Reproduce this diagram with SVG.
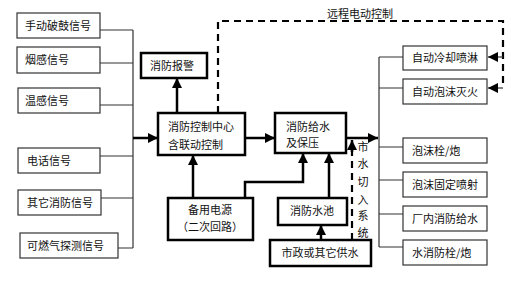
<svg xmlns="http://www.w3.org/2000/svg" width="511" height="281" viewBox="0 0 511 281">
<defs>
<marker id="ah" markerUnits="userSpaceOnUse" markerWidth="10" markerHeight="10" viewBox="0 0 10 10" refX="10" refY="5" orient="auto">
<path d="M0,0 L10,5 L0,10 Z" fill="#000"/>
</marker>
</defs>
<style>
text{font-family:"Noto Sans CJK SC","Noto Sans",sans-serif;font-size:11px;fill:#111}
.thin{fill:#fff;stroke:#333;stroke-width:1.2}
.thick{fill:#fff;stroke:#000;stroke-width:2.5}
.ln{fill:none;stroke:#333;stroke-width:1.2}
.tk{fill:none;stroke:#000;stroke-width:2.5}
.ds{fill:none;stroke:#000;stroke-width:2.2;stroke-dasharray:7,5}
.c{text-anchor:middle}
</style>
<rect width="511" height="281" fill="#fff"/>
<g id="connectors">
<path class="ln" d="M100,30 H133 M100,63 H133 M100,105 H133 M100,156 H133 M100,198 H133 M118,248 H133 M133,30 V248"/>
<path class="tk" d="M133,138 H158" marker-end="url(#ah)"/>
<path class="tk" d="M177,113 V78" marker-end="url(#ah)"/>
<path class="tk" d="M245,138 H275" marker-end="url(#ah)"/>
<path class="tk" d="M346,138 H378" marker-end="url(#ah)"/>
<path class="tk" d="M193,198 V155" marker-end="url(#ah)"/>
<path class="tk" d="M245,198 V182 H303 V153" marker-end="url(#ah)"/>
<path class="tk" d="M329,198 V153" marker-end="url(#ah)"/>
<path class="tk" d="M321,240 V225" marker-end="url(#ah)"/>
<path class="ds" d="M352,240 V150"/>
<path class="tk" d="M352,152 V140" marker-end="url(#ah)"/>
<path class="ds" d="M218,113 V21 H503 V86"/>
<path class="ln" d="M503,57 H488" marker-end="url(#ah)"/>
<path class="ln" d="M503,88 H488" marker-end="url(#ah)"/>
<path class="ln" d="M379,57 V247 M379,57 H403 M379,88 H403 M379,147 H403 M379,180 H403 M379,214 H403 M379,247 H403"/>
</g>
<g id="n1"><rect class="thin" x="17" y="13" width="83" height="25"/><text x="25" y="29.5">手动破鼓信号</text></g>
<g id="n2"><rect class="thin" x="17" y="47" width="83" height="26"/><text x="25" y="64">烟感信号</text></g>
<g id="n3"><rect class="thin" x="18" y="88" width="82" height="25"/><text x="25" y="104.5">温感信号</text></g>
<g id="n4"><rect class="thin" x="18" y="148" width="82" height="25"/><text x="27" y="164.5">电话信号</text></g>
<g id="n5"><rect class="thin" x="18" y="190" width="83" height="25"/><text x="27" y="206.5">其它消防信号</text></g>
<g id="n6"><rect class="thin" x="20" y="233" width="98" height="25"/><text x="27" y="249.5">可燃气探测信号</text></g>
<g id="alarm"><rect class="thick" x="141" y="53" width="66" height="25"/><text x="150" y="70">消防报警</text></g>
<g id="center"><rect class="thick" x="158" y="113" width="87" height="42"/><text x="168" y="131">消防控制中心</text><text x="168" y="149">含联动控制</text></g>
<g id="water"><rect class="thick" x="275" y="113" width="71" height="40"/><text x="286" y="131">消防给水</text><text x="286" y="147">及保压</text></g>
<g id="power"><rect class="thick" x="168" y="198" width="85" height="42"/><text class="c" x="210" y="214">备用电源</text><text class="c" x="210" y="231">（二次回路）</text></g>
<g id="pool"><rect class="thick" x="278" y="198" width="69" height="27"/><text class="c" x="312" y="215">消防水池</text></g>
<g id="city"><rect class="thick" x="270" y="240" width="101" height="26"/><text class="c" x="320" y="257">市政或其它供水</text></g>
<g id="r1"><rect class="thin" x="403" y="46" width="84" height="24"/><text x="412" y="62">自动冷却喷淋</text></g>
<g id="r2"><rect class="thin" x="403" y="79" width="84" height="25"/><text x="412" y="95.5">自动泡沫灭火</text></g>
<g id="r3"><rect class="thin" x="403" y="138" width="84" height="25"/><text x="412" y="154.5">泡沫栓/炮</text></g>
<g id="r4"><rect class="thin" x="403" y="172" width="84" height="25"/><text x="412" y="188.5">泡沫固定喷射</text></g>
<g id="r5"><rect class="thin" x="403" y="206" width="84" height="25"/><text x="412" y="222.5">厂内消防给水</text></g>
<g id="r6"><rect class="thin" x="403" y="240" width="84" height="25"/><text x="412" y="256.5">水消防栓/炮</text></g>
<g id="labels">
<text x="327" y="18">远程电动控制</text>
<text class="c" x="363" y="151">市</text>
<text class="c" x="363" y="168">水</text>
<text class="c" x="363" y="186">切</text>
<text class="c" x="363" y="204">入</text>
<text class="c" x="363" y="220">系</text>
<text class="c" x="363" y="237">统</text>
</g>
</svg>
